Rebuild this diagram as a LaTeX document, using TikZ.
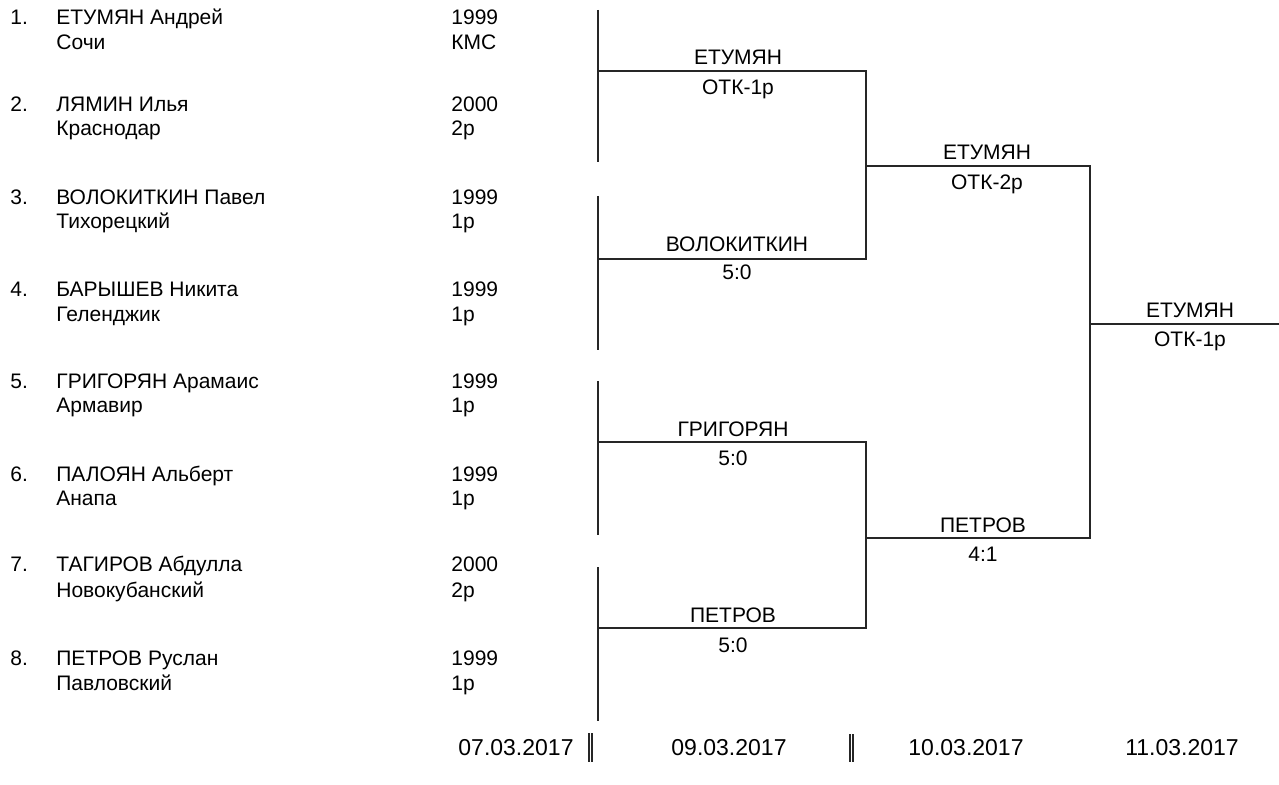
\documentclass[tikz,border=0pt]{standalone}
\usepackage{fontspec}
\setmainfont{Liberation Sans}
\begin{document}
\begin{tikzpicture}[x=0.5pt, y=-0.5pt,
    every node/.style={inner sep=0pt, font=\fontsize{10.5}{12}\selectfont},
    lft/.style={anchor=base west}, mid/.style={anchor=base},
    datum/.style={anchor=base, font=\fontsize{11.5}{13}\selectfont},
    line/.style={line width=0.55pt, black!85}]
    \useasboundingbox (0,0) rectangle (1279,785);
    % participants
    \node[lft] (n1) at (10,25) {1.};
    \node[lft] (p1) at (56,25) {ЕТУМЯН Андрей};
    \node[lft] (c1) at (56,50) {Сочи};
    \node[lft] (y1) at (451,25) {1999};
    \node[lft] (r1) at (451,50) {КМС};
    \node[lft] (n2) at (10,112) {2.};
    \node[lft] (p2) at (56,112) {ЛЯМИН Илья};
    \node[lft] (c2) at (56,136) {Краснодар};
    \node[lft] (y2) at (451,112) {2000};
    \node[lft] (r2) at (451,136) {2р};
    \node[lft] (n3) at (10,205) {3.};
    \node[lft] (p3) at (56,205) {ВОЛОКИТКИН Павел};
    \node[lft] (c3) at (56,229) {Тихорецкий};
    \node[lft] (y3) at (451,205) {1999};
    \node[lft] (r3) at (451,229) {1р};
    \node[lft] (n4) at (10,297) {4.};
    \node[lft] (p4) at (56,297) {БАРЫШЕВ Никита};
    \node[lft] (c4) at (56,322) {Геленджик};
    \node[lft] (y4) at (451,297) {1999};
    \node[lft] (r4) at (451,322) {1р};
    \node[lft] (n5) at (10,389) {5.};
    \node[lft] (p5) at (56,389) {ГРИГОРЯН Арамаис};
    \node[lft] (c5) at (56,413) {Армавир};
    \node[lft] (y5) at (451,389) {1999};
    \node[lft] (r5) at (451,413) {1р};
    \node[lft] (n6) at (10,482) {6.};
    \node[lft] (p6) at (56,482) {ПАЛОЯН Альберт};
    \node[lft] (c6) at (56,506) {Анапа};
    \node[lft] (y6) at (451,482) {1999};
    \node[lft] (r6) at (451,506) {1р};
    \node[lft] (n7) at (10,572) {7.};
    \node[lft] (p7) at (56,572) {ТАГИРОВ Абдулла};
    \node[lft] (c7) at (56,597) {Новокубанский};
    \node[lft] (y7) at (451,572) {2000};
    \node[lft] (r7) at (451,597) {2р};
    \node[lft] (n8) at (10,665) {8.};
    \node[lft] (p8) at (56,665) {ПЕТРОВ Руслан};
    \node[lft] (c8) at (56,690) {Павловский};
    \node[lft] (y8) at (451,665) {1999};
    \node[lft] (r8) at (451,690) {1р};
    % pair lines
    \coordinate (a1) at (598,10);  \coordinate (b1) at (598,162);
    \coordinate (a2) at (598,196); \coordinate (b2) at (598,350);
    \coordinate (a3) at (598,381); \coordinate (b3) at (598,535);
    \coordinate (a4) at (598,567); \coordinate (b4) at (598,721);
    \draw[line] (a1) -- (b1);
    \draw[line] (a2) -- (b2);
    \draw[line] (a3) -- (b3);
    \draw[line] (a4) -- (b4);
    % first round
    \coordinate (m1) at (598,71);  \coordinate (m2) at (598,259);
    \coordinate (m3) at (598,442); \coordinate (m4) at (598,628);
    \coordinate (k1) at (866,71);  \coordinate (k2) at (866,259);
    \coordinate (k3) at (866,442); \coordinate (k4) at (866,628);
    \coordinate (o1) at (866,166); \coordinate (o2) at (866,538);
    \coordinate (q1) at (1090,166); \coordinate (q2) at (1090,538);
    \coordinate (f1) at (1090,324); \coordinate (f2) at (1279,324);
    \draw[line] (m1) -- (k1) -- (k2) -- (m2);
    \draw[line] (m3) -- (k3) -- (k4) -- (m4);
    \draw[line] (o1) -- (q1) -- (q2) -- (o2);
    \draw[line] (f1) -- (f2);
    % results
    \node[mid] (w1) at (738,65) {ЕТУМЯН};
    \node[mid] (s1) at (738,95) {ОТК-1р};
    \node[mid] (w2) at (737,252) {ВОЛОКИТКИН};
    \node[mid] (s2) at (737,280) {5:0};
    \node[mid] (w3) at (733,437) {ГРИГОРЯН};
    \node[mid] (s3) at (733,466) {5:0};
    \node[mid] (w4) at (733,622) {ПЕТРОВ};
    \node[mid] (s4) at (733,652) {5:0};
    \node[mid] (w5) at (987,160) {ЕТУМЯН};
    \node[mid] (s5) at (987,190) {ОТК-2р};
    \node[mid] (w6) at (983,532) {ПЕТРОВ};
    \node[mid] (s6) at (983,561) {4:1};
    \node[mid] (w7) at (1190,318) {ЕТУМЯН};
    \node[mid] (s7) at (1190,347) {ОТК-1р};
    % dates
    \node[datum] (d1) at (516,755) {07.03.2017};
    \node[datum] (d2) at (729,755) {09.03.2017};
    \node[datum] (d3) at (966,755) {10.03.2017};
    \node[datum] (d4) at (1182,755) {11.03.2017};
    \coordinate (t1) at (589,733); \coordinate (u1) at (589,762);
    \coordinate (t2) at (592,733); \coordinate (u2) at (592,762);
    \coordinate (t3) at (850,734); \coordinate (u3) at (850,762);
    \coordinate (t4) at (853,734); \coordinate (u4) at (853,762);
    \draw[line] (t1) -- (u1);
    \draw[line] (t2) -- (u2);
    \draw[line] (t3) -- (u3);
    \draw[line] (t4) -- (u4);
\end{tikzpicture}
\end{document}
